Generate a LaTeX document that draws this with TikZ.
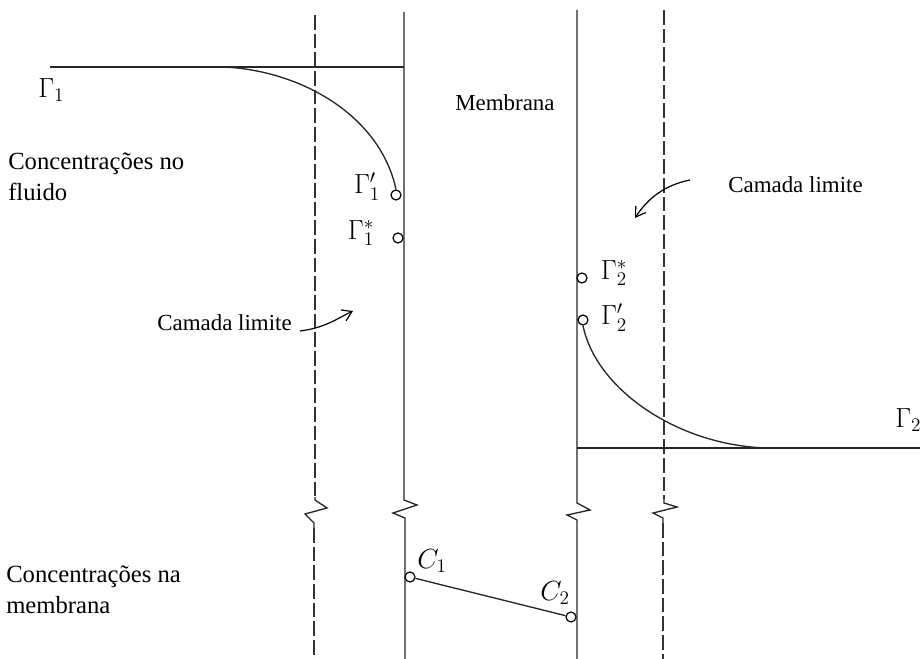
\documentclass[tikz,border=0pt]{standalone}
\usepackage{fontspec}
\setmainfont{Liberation Serif}
\usetikzlibrary{arrows.meta}
\begin{document}
\begin{tikzpicture}[x=0.75pt,y=-0.75pt,
  ln/.style={line width=1pt,black!85},
  dsh/.style={line width=1pt,black!80,dash pattern=on 11pt off 3pt},
  pt/.style={circle,draw,line width=0.9pt,inner sep=0pt,minimum size=7.5pt,fill=white},
  lbl/.style={font=\fontsize{17.2}{20}\selectfont,inner sep=0pt},
  lblb/.style={font=\fontsize{18.5}{23}\selectfont,inner sep=0pt},
  gl/.style={font=\fontsize{22}{25}\selectfont,inner sep=0pt},
  arr/.style={line width=0.9pt,-{Straight Barb[length=7pt,width=9pt]}}]
\useasboundingbox (0,0) rectangle (920,659);
% vertical lines with breaks
\draw[dsh] (315,15) -- (315,497);
\draw[ln] (315,497) -- (315,500) -- (327,508) -- (305,514) -- (314,523) -- (314,528);
\draw[dsh] (314,528) -- (314,659);
\draw[ln] (404,12) -- (404,500) -- (417,505) -- (393,513) -- (405,518) -- (405,659);
\draw[ln] (577,10) -- (577,503) -- (590,510) -- (567,515) -- (577,520) -- (577,659);
\draw[dsh] (664,10) -- (664,499);
\draw[ln] (664,499) -- (664,503) -- (677,507) -- (653,513) -- (663,518) -- (663,523);
\draw[dsh] (663,523) -- (663,659);
% horizontal levels
\coordinate (hs) at (50,67);
\coordinate (he) at (404,67);
\draw[ln] (hs) -- (he);
\coordinate (h2s) at (577,448);
\coordinate (h2e) at (920,448);
\draw[ln] (h2s) -- (h2e);
% points
\node[pt] (g1p) at (396,195) {};
\node[pt] (g1s) at (398,238) {};
\node[pt] (g2s) at (582,278) {};
\node[pt] (g2p) at (583,320) {};
\node[pt] (c1) at (410,577) {};
\node[pt] (c2) at (571,617) {};
% profiles
\coordinate (cs) at (223,67);
\draw[ln] (cs) .. controls (300,70) and (380,115) .. (g1p.north);
\coordinate (ce) at (770,448);
\draw[ln] (g2p.south) .. controls (596,390) and (680,447) .. (ce);
\draw[ln] (c1) -- (c2);
% labels
\node[gl,anchor=west] (G1) at (38,90) {$\Gamma_1$};
\node[gl] (G1p) at (367,187) {$\Gamma_1'$};
\node[gl] (G1s) at (361,233) {$\Gamma_1^*$};
\node[gl] (G2s) at (614,273) {$\Gamma_2^*$};
\node[gl] (G2p) at (614,318) {$\Gamma_2'$};
\node[gl,anchor=west] (G2) at (895,420) {$\Gamma_2$};
\node[gl] (C1l) at (432,561) {$C_1$};
\node[gl] (C2l) at (555,593) {$C_2$};
\node[lbl,anchor=west] (mem) at (455,103) {Membrana};
\node[lblb,anchor=north west,align=left] (cf) at (8,153) {Concentrações no\\fluido};
\node[lblb,anchor=north west,align=left] (cm) at (6,566) {Concentrações na\\membrana};
\node[lbl,anchor=east] (cl1) at (292,323) {Camada limite};
\node[lbl,anchor=west] (cl2) at (728,185) {Camada limite};
% arrows
\coordinate (a1s) at (300,331);
\coordinate (a1e) at (353,311);
\draw[arr] (a1s) .. controls (325,328) and (338,318) .. (a1e);
\coordinate (a2s) at (690,180);
\coordinate (a2e) at (635,218);
\draw[arr] (a2s) .. controls (665,185) and (648,198) .. (a2e);
\end{tikzpicture}
\end{document}
